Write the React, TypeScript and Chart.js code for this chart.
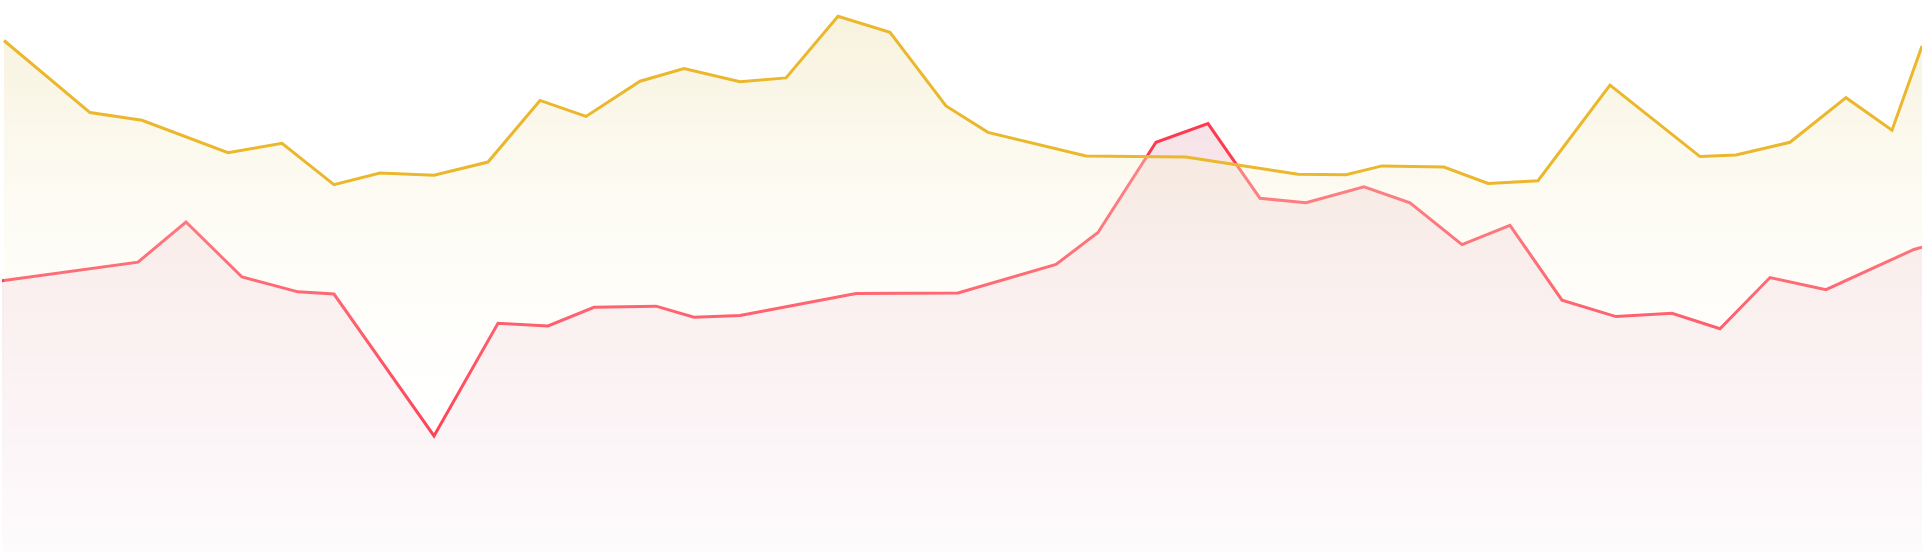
import { useEffect, useRef } from "react"
import { Chart, registerables } from "chart.js"

Chart.register(...registerables)

// time positions (hours) and values for the gold series
const goldTimes = [
  0.1, 4.4, 7.0, 11.3, 14.0, 16.6, 18.9, 21.6, 24.3, 26.9, 29.2, 31.9, 34.1, 36.9, 39.2, 41.8, 44.4,
  47.2, 49.3, 54.2, 59.2, 64.8, 67.2, 69.0, 72.1, 74.3, 76.8, 80.4, 84.9, 86.7, 89.4, 92.2, 94.5, 96.0,
]
const goldValues = [
  93.0, 79.9, 78.5, 72.6, 74.3, 66.8, 68.9, 68.5, 70.9, 82.1, 79.2, 85.6, 87.9, 85.5, 86.2, 97.4, 94.5,
  81.1, 76.3, 72.0, 71.8, 68.7, 68.6, 70.2, 70.0, 67.0, 67.5, 84.9, 71.9, 72.2, 74.5, 82.6, 76.7, 92.0,
]

// time positions (hours) and values for the red series
const redTimes = [
  0, 6.8, 9.2, 12.0, 14.8, 16.6, 21.6, 24.8, 27.3, 29.6, 32.7, 34.6, 36.9, 42.7, 47.8, 52.7, 54.8,
  57.7, 60.3, 62.9, 65.2, 68.1, 70.4, 73.0, 75.4, 78.0, 80.7, 83.5, 85.9, 88.4, 91.2, 95.6, 96.0,
]
const redValues = [
  49.3, 52.7, 60.0, 50.0, 47.3, 46.9, 21.1, 41.6, 41.1, 44.5, 44.7, 42.7, 43.0, 47.0, 47.1, 52.3, 58.1,
  74.5, 77.9, 64.3, 63.5, 66.4, 63.5, 55.9, 59.4, 45.8, 42.8, 43.4, 40.6, 49.9, 47.7, 55.0, 55.4,
]

const xMin = 0
const xMax = 96
const yMin = 0
const yMax = 100

function toPoints(xs: number[], ys: number[]) {
  return xs.map((x, i) => ({ x, y: ys[i] }))
}

export default function App() {
  const chartRef = useRef<HTMLCanvasElement>(null)
  const chartInstance = useRef<Chart | null>(null)

  useEffect(() => {
    document.body.style.margin = "0"
    if (!chartRef.current) return

    if (chartInstance.current) {
      chartInstance.current.destroy()
    }

    const ctx = chartRef.current.getContext("2d")
    if (!ctx) return

    chartInstance.current = new Chart(ctx, {
      type: "line",
      data: {
        datasets: [
          {
            label: "Gold",
            data: toPoints(goldTimes, goldValues),
            borderColor: "#ebb72c",
            borderWidth: 3,
            pointRadius: 0,
            tension: 0,
            fill: "start",
            backgroundColor: (context) => {
              const area = context.chart.chartArea
              if (!area) return "rgba(0,0,0,0)"
              const g = context.chart.ctx.createLinearGradient(0, area.top, 0, area.bottom)
              g.addColorStop(0, "rgba(242,232,196,0.6)")
              g.addColorStop(0.45, "rgba(250,246,226,0.3)")
              g.addColorStop(0.85, "rgba(255,255,255,0)")
              return g
            },
          },
          {
            label: "Red",
            data: toPoints(redTimes, redValues),
            borderColor: "#ff3a4e",
            borderWidth: 3,
            pointRadius: 0,
            tension: 0,
            fill: "start",
            backgroundColor: (context) => {
              const area = context.chart.chartArea
              if (!area) return "rgba(0,0,0,0)"
              const g = context.chart.ctx.createLinearGradient(0, area.top, 0, area.bottom)
              g.addColorStop(0, "rgba(190,50,90,0.17)")
              g.addColorStop(1, "rgba(190,50,90,0.02)")
              return g
            },
          },
        ],
      },
      options: {
        animation: false,
        responsive: true,
        maintainAspectRatio: false,
        layout: {
          padding: { left: 2, right: 3, top: 2, bottom: 2 },
        },
        scales: {
          x: { type: "linear", min: xMin, max: xMax, display: false },
          y: { min: yMin, max: yMax, display: false },
        },
        plugins: {
          legend: { display: false },
          tooltip: { enabled: false },
        },
      },
    })

    return () => {
      if (chartInstance.current) {
        chartInstance.current.destroy()
        chartInstance.current = null
      }
    }
  }, [])

  return (
    <div style={{ position: "relative", width: "1925px", height: "554px" }}>
      <canvas ref={chartRef} />
    </div>
  )
}
